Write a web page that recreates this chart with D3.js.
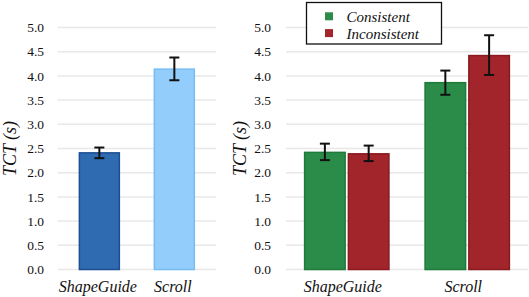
<!DOCTYPE html>
<html>
<head>
<meta charset="utf-8">
<script src="https://cdn.jsdelivr.net/npm/d3@7"></script>
</head>
<body style="margin:0">
<svg id="chart" width="529" height="297"></svg>
<script>
// ---- data ----
const yTicks = [0, 0.5, 1, 1.5, 2, 2.5, 3, 3.5, 4, 4.5, 5];
const leftCategories = ["ShapeGuide", "Scroll"];
const leftValues = [2.41, 4.14];
const leftErrLow = [2.30, 3.91];
const leftErrHigh = [2.52, 4.38];

const rightCategories = ["ShapeGuide", "Scroll"];
const seriesNames = ["Consistent", "Inconsistent"];
const consistentValues = [2.42, 3.86];
const consistentErrLow = [2.26, 3.61];
const consistentErrHigh = [2.60, 4.11];
const inconsistentValues = [2.39, 4.42];
const inconsistentErrLow = [2.24, 4.02];
const inconsistentErrHigh = [2.56, 4.84];

const FONT = '"Liberation Serif"';
const svg = d3.select("#chart");
svg.append("rect").attr("width", 529).attr("height", 297).attr("fill", "#fff");
const y = d3.scaleLinear().domain([0, 5]).range([269.5, 27.5]);
const gridColor = "#e8e8e8";

function addText(x, yy, str, size, italic, anchor, dy) {
  const t = svg.append("text").attr("x", x).attr("y", yy)
    .style("font-family", FONT).style("font-size", size + "px")
    .attr("fill", "#111").attr("text-anchor", anchor || "start")
    .text(str);
  if (italic) t.style("font-style", "italic");
  if (dy) t.attr("dy", dy);
  return t;
}

function drawAxis(x0, x1, labelRight, yLabelX) {
  yTicks.forEach(d => {
    svg.append("line")
      .attr("x1", x0).attr("x2", x1).attr("y1", y(d)).attr("y2", y(d))
      .attr("stroke", gridColor).attr("stroke-width", 1.5);
  });
  yTicks.forEach(d => {
    addText(labelRight, y(d), d3.format(".1f")(d), 13.5, false, "end", "0.35em");
  });
  addText(0, 0, "TCT (s)", 18, true, "middle", "0.35em")
    .attr("transform", `translate(${yLabelX},${(y(0) + y(5)) / 2}) rotate(-90)`);
}

function errorBar(cx, lo, hi) {
  const line = (x1, x2, y1, y2) => svg.append("line")
    .attr("x1", x1).attr("x2", x2).attr("y1", y1).attr("y2", y2)
    .attr("stroke", "#111").attr("stroke-width", 2);
  line(cx, cx, y(lo), y(hi));
  line(cx - 5, cx + 5, y(lo), y(lo));
  line(cx - 5, cx + 5, y(hi), y(hi));
}

// ---- left panel ----
drawAxis(57.7, 216, 44, 10);
const xL = d3.scaleBand().domain(leftCategories).range([57.7, 216])
  .paddingInner(0.447).paddingOuter(0.279);
const leftFill = ["#2e6bb0", "#92cdfb"];
const leftStroke = ["#1c4f92", "#78bdf2"];
leftCategories.forEach((c, i) => {
  svg.append("rect")
    .attr("x", xL(c) + 0.75).attr("y", y(leftValues[i]))
    .attr("width", xL.bandwidth() - 1.5).attr("height", y(0) - y(leftValues[i]))
    .attr("fill", leftFill[i]).attr("stroke", leftStroke[i]).attr("stroke-width", 1.5);
});
leftCategories.forEach((c, i) => {
  errorBar(xL(c) + xL.bandwidth() / 2, leftErrLow[i], leftErrHigh[i]);
});
leftCategories.forEach(c => {
  addText(xL(c) + xL.bandwidth() / 2 - 1.5, 292, c, 16, true, "middle");
});

// ---- right panel ----
drawAxis(286, 528, 271, 240);
const xR = d3.scaleBand().domain(rightCategories).range([287, 527])
  .paddingInner(0.2875).paddingOuter(0.14);
const xSub = d3.scaleBand().domain(seriesNames).range([0, xR.bandwidth()]).paddingInner(0.04);
const rFill = ["#2b8c49", "#a2252b"];
const rStroke = ["#1f7a3b", "#8a1a20"];
const rVals = [consistentValues, inconsistentValues];
const rLo = [consistentErrLow, inconsistentErrLow];
const rHi = [consistentErrHigh, inconsistentErrHigh];
rightCategories.forEach((c, i) => {
  seriesNames.forEach((s, j) => {
    const v = rVals[j][i];
    svg.append("rect")
      .attr("x", xR(c) + xSub(s) + 0.75).attr("y", y(v))
      .attr("width", xSub.bandwidth() - 1.5).attr("height", y(0) - y(v))
      .attr("fill", rFill[j]).attr("stroke", rStroke[j]).attr("stroke-width", 1.5);
  });
});
rightCategories.forEach((c, i) => {
  seriesNames.forEach((s, j) => {
    errorBar(xR(c) + xSub(s) + xSub.bandwidth() / 2, rLo[j][i], rHi[j][i]);
  });
});
rightCategories.forEach(c => {
  addText(xR(c) + xR.bandwidth() / 2 - 4, 292, c, 16, true, "middle");
});

// ---- legend ----
svg.append("rect").attr("x", 306.5).attr("y", 2.5).attr("width", 135).attr("height", 41.5)
  .attr("fill", "#fff").attr("stroke", "#111").attr("stroke-width", 1.3);
seriesNames.forEach((s, j) => {
  svg.append("rect").attr("x", 325).attr("y", 12.3 + j * 16.8).attr("width", 8).attr("height", 8)
    .attr("fill", rFill[j]);
  addText(346.5, 16.5 + j * 16.8, s, 15, true, "start", "0.35em");
});
</script>
</body>
</html>
